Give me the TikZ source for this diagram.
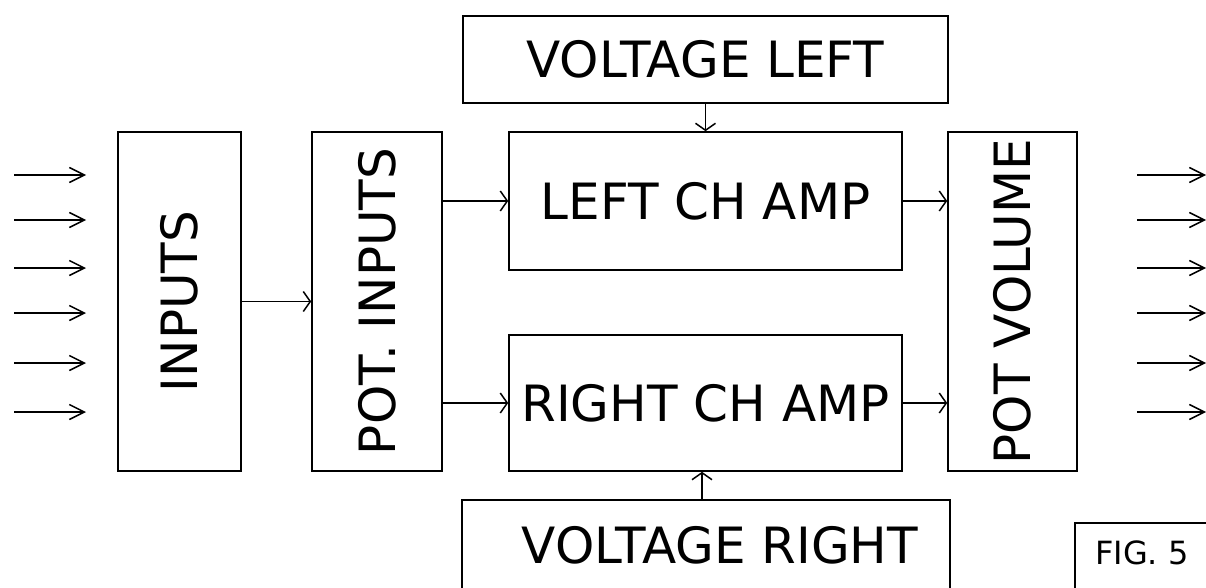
\documentclass[tikz,border=0pt]{standalone}
\usepackage{fontspec}
\setmainfont{DejaVu Sans}
\usetikzlibrary{arrows.meta,positioning}

\begin{document}
\begin{tikzpicture}[
  x=1pt,y=-1pt,
  block/.style={draw,line width=1.6pt,inner sep=0pt,align=center},
  link/.style={line width=1.5pt,-{Straight Barb[length=7pt,width=20pt,line width=1.5pt]}},
  feed/.style={line width=1.5pt,-{Straight Barb[length=15pt,width=15pt,line width=1.5pt]}},
  every node/.style={font=\fontsize{50}{58}\selectfont}
]
  \useasboundingbox (0,0) rectangle (1206,588);
  \node[block,minimum width=123pt,minimum height=339pt] (inputs) at (179.5,301.5)
    {\rotatebox{90}{INPUTS}};
  \node[block,minimum width=130pt,minimum height=339pt] (potin) at (377,301.5)
    {\rotatebox{90}{POT. INPUTS}};
  \node[block,minimum width=485pt,minimum height=87pt] (vleft) at (705.5,59.5)
    {VOLTAGE LEFT};
  \node[block,minimum width=393pt,minimum height=138pt] (leftamp) at (705.5,201)
    {LEFT CH AMP};
  \node[block,minimum width=393pt,minimum height=136pt] (rightamp) at (705.5,403)
    {RIGHT CH AMP};
  \node[block,minimum width=488pt,minimum height=100pt] (vright) at (706,550) {};
  \node (vrighttext) at (720,545) {VOLTAGE RIGHT};
  \node[block,minimum width=129pt,minimum height=339pt] (potvol) at (1012.5,301.5)
    {\rotatebox{90}{POT VOLUME}};
  \node[block,minimum width=145pt,minimum height=77pt] (figbox) at (1147.5,561.5) {};
  \node[font=\fontsize{32}{38}\selectfont] (figtext) at (1142,553) {FIG. 5};
  % signal path
  \draw[link] (inputs) -- (potin);
  \draw[link] (potin.east |- leftamp) -- (leftamp);
  \draw[link] (potin.east |- rightamp) -- (rightamp);
  \draw[link] (leftamp) -- (potvol.west |- leftamp);
  \draw[link] (rightamp) -- (potvol.west |- rightamp);
  \draw[link] (vleft) -- (leftamp);
  \draw[link] (vright.north -| 702,0) -- (rightamp.south -| 702,0);
  % ins and outs
  \foreach \y [count=\i] in {175,220,268,313,363,412} {
    \coordinate (in\i) at (14,\y);
    \coordinate (inend\i) at (86,\y);
    \coordinate (out\i) at (1137,\y);
    \coordinate (outend\i) at (1206,\y);
    \draw[feed] (in\i) -- (inend\i);
    \draw[feed] (out\i) -- (outend\i);
  }
\end{tikzpicture}
\end{document}
